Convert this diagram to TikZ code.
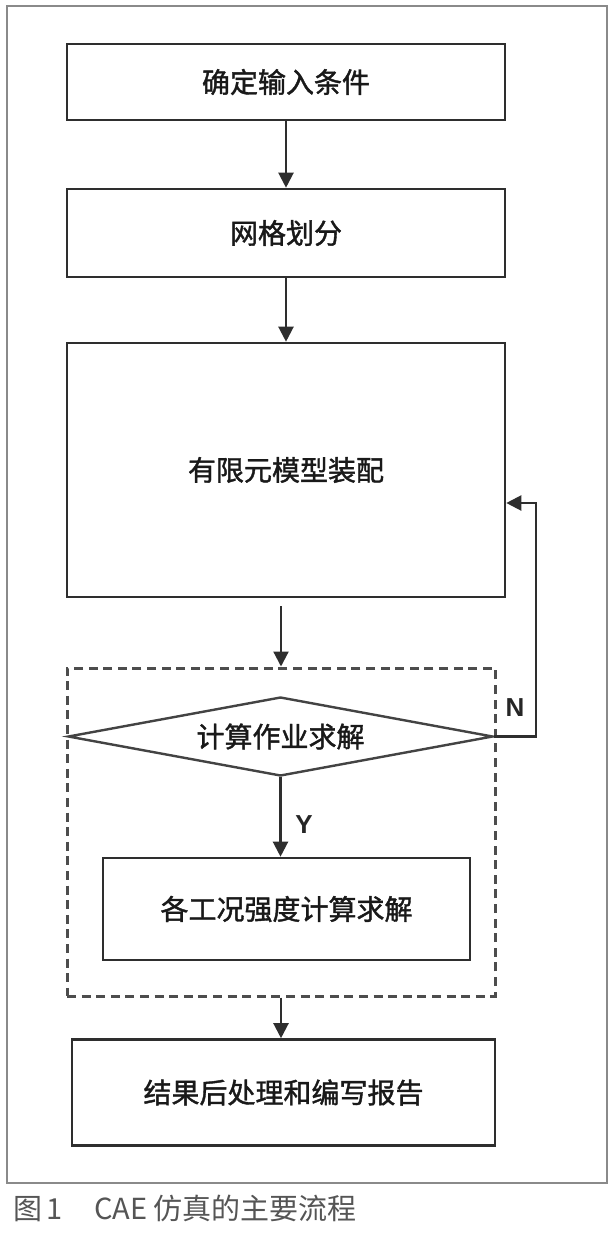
\documentclass[tikz,border=0pt]{standalone}
\usepackage{fontspec}
\usepackage{tikz}
\usetikzlibrary{arrows.meta,shapes.geometric}

\setmainfont{Noto Sans CJK SC}
\newfontfamily\boxfont{Noto Sans CJK SC}[FakeBold=1.4]
\newfontfamily\latinsans{Liberation Sans}

\definecolor{linegray}{HTML}{2E2E2E}
\definecolor{framegray}{HTML}{8A8A8A}
\definecolor{capgray}{HTML}{555555}

\tikzset{
    stage/.style={draw=linegray, line width=1.3pt, fill=white, inner sep=0pt, font=\boxfont\fontsize{14}{16}\selectfont, text=black!90},
    decide/.style={diamond, draw=linegray!90, line width=1.2pt, aspect=5, inner sep=0pt, minimum width=212.5pt, minimum height=39.5pt, font=\boxfont\fontsize{14}{16}\selectfont, text=black!90},
    group/.style={draw=linegray!85, line width=1.5pt, dash pattern=on 4.5pt off 2.8pt},
    flow/.style={draw=linegray, line width=1.1pt, -{Triangle[width=7.5pt,length=7.5pt]}},
    yn/.style={font=\latinsans\bfseries\fontsize{13}{15}\selectfont, text=black!85}
}

\begin{document}
\begin{tikzpicture}[x=0.5pt, y=-0.5pt]

    \fill[white] (0,0) rectangle (614,1236);

    \useasboundingbox (0,0) rectangle (614,1236);


    \draw[framegray, line width=0.8pt] (7,6) rectangle (607,1183);


    \node[group, minimum width=214pt, minimum height=164pt] (calcgroup) at (281,832) {};


    \node[stage, minimum width=219pt, minimum height=38pt] (input) at (286,82) {确定输入条件};

    \node[stage, minimum width=219pt, minimum height=44pt] (mesh) at (286,233) {网格划分};

    \node[stage, minimum width=219pt, minimum height=127pt] (assembly) at (286,470) {有限元模型装配};

    \node[decide] (solve) at (280.5,736.5) {计算作业求解};

    \node[stage, minimum width=183.5pt, minimum height=51pt] (cases) at (286.5,909) {\raisebox{-5.5pt}{各工况强度计算求解}};

    \node[stage, minimum width=211.5pt, minimum height=53pt] (report) at (283.5,1092.5) {\raisebox{-3.75pt}{结果后处理和编写报告}};


    \node[yn] (nlabel) at (515,708) {N};

    \node[yn] (ylabel) at (304,825) {Y};


    \coordinate (nturn) at (536,736.5);

    \coordinate (nback) at (536,503);


    \draw[flow] (input) -- (mesh);

    \draw[flow] (mesh) -- (assembly);

    \draw[flow, shorten <=4pt] (assembly.south -| calcgroup.north) -- (calcgroup.north);

    \draw[flow] (solve.south) -- (solve.south |- cases.north);

    \draw[flow] (calcgroup.south) -- (calcgroup.south |- report.north);

    \draw[flow] (solve.east) -- (nturn) -- (nback) -- (nback -| assembly.east);


    \node[anchor=west, text=capgray, font=\fontsize{14.5}{17}\selectfont] (caption) at (6,1208) {图\hspace{2pt}1\hspace{16pt}CAE 仿真的主要流程};

\end{tikzpicture}
\end{document}
